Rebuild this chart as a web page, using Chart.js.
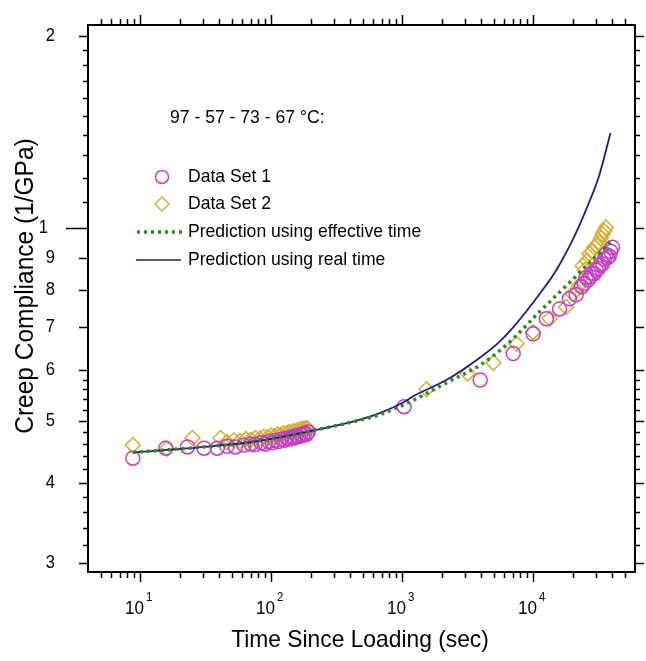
<!DOCTYPE html>
<html>
  <head>
    <meta charset="utf-8">
    <script src="https://cdn.jsdelivr.net/npm/chart.js@4.4.0/dist/chart.umd.min.js"></script>
    <style>
      body { margin: 0; background: #fff; }
      #wrap { width: 646px; height: 661px; position: relative; }
    </style>
  </head>
  <body>
    <div id="wrap"><canvas id="creepChart"></canvas></div>
    <script>
      // data
      const time1 = [8.8, 15.7, 23, 30.8, 38.8, 46, 53.4, 62, 70, 75.7,
        84, 90, 96, 102, 108, 114, 120, 126, 132, 138, 144, 150, 156, 162, 168, 174, 180, 186, 192,
        1035, 3945, 7047, 10000, 12630, 15920, 18960, 21330, 23500, 24500, 25410, 26300, 27300, 28200, 29300,
        30400, 31500, 32700, 33900, 35000, 36000, 37100, 38200, 39200, 40360];
      const compliance1 = [0.437, 0.453, 0.455, 0.453, 0.453, 0.456, 0.455, 0.458, 0.460, 0.459,
        0.462, 0.460, 0.464, 0.462, 0.466, 0.464, 0.468, 0.466, 0.470, 0.468, 0.472, 0.470, 0.474, 0.472, 0.476, 0.474, 0.478, 0.476, 0.480,
        0.526, 0.579, 0.637, 0.684, 0.722, 0.748, 0.776, 0.787, 0.810, 0.820, 0.838, 0.830, 0.840, 0.850, 0.849,
        0.860, 0.865, 0.875, 0.880, 0.895, 0.910, 0.900, 0.905, 0.920, 0.934];

      const time2 = [8.8, 16, 25.1, 41.1, 46, 52, 58, 64, 70, 76, 82, 88, 94, 100, 106, 112, 118, 124, 130,
        136, 142, 148, 154, 160, 166, 172, 178, 184, 190,
        1538, 3162, 4980, 7480, 10000, 13390, 17900, 20090, 21500, 22590, 23930, 24800, 25800, 26900, 28100,
        29300, 30600, 31980, 32900, 33900, 35000, 36000];
      const compliance2 = [0.458, 0.452, 0.470, 0.470, 0.463, 0.466, 0.465, 0.468, 0.467, 0.470, 0.469, 0.472, 0.471, 0.474, 0.473, 0.476, 0.475, 0.478, 0.477,
        0.480, 0.479, 0.482, 0.481, 0.484, 0.483, 0.486, 0.485, 0.487, 0.486,
        0.560, 0.593, 0.616, 0.660, 0.688, 0.722, 0.753, 0.790, 0.800, 0.815, 0.874, 0.860, 0.890, 0.912, 0.920,
        0.934, 0.940, 0.950, 0.965, 0.979, 0.990, 1.003];

      const predTime = [8.8, 10, 23.7, 75.7, 192, 400, 690, 1035, 1233, 2208, 3945, 5430, 7047, 11250, 15030, 20090, 25410, 31980, 39000];
      const predEffective = [0.446, 0.447, 0.453, 0.464, 0.481, 0.497, 0.512, 0.530, 0.539, 0.574, 0.611, 0.641, 0.672, 0.741, 0.785, 0.832, 0.873, 0.914, 0.951];
      const predReal = [0.446, 0.447, 0.453, 0.464, 0.481, 0.497, 0.515, 0.535, 0.547, 0.580, 0.628, 0.662, 0.700, 0.790, 0.860, 0.960, 1.070, 1.210, 1.410];

      const xMajor = [10, 100, 1000, 10000];
      const yLabelled = [0.3, 0.4, 0.5, 0.6, 0.7, 0.8, 0.9, 1, 2];

      const magenta = '#c63dc6';
      const gold = '#d4ae2c';
      const navy = '#1c1c8c';
      const green = '#2f8a1c';
      const FONT = '"Liberation Sans", Arial, sans-serif';

      function pairs(xs, ys) {
        return xs.map((x, i) => ({x: x, y: ys[i]}));
      }

      // tick positions for the log axes
      const xTicks = [];
      for (let e = 0; e <= 4; e++) {
        for (let m = 1; m <= 9; m++) {
          const v = m * Math.pow(10, e);
          if (v >= 5 && v <= 50000) xTicks.push(v);
        }
      }
      const yTicks = [];
      for (let k = 30; k <= 60; k += 2) yTicks.push(k / 100);
      yTicks.push(0.7, 0.8, 0.9, 1);
      for (let k = 11; k <= 20; k++) yTicks.push(k / 10);

      // the source lettering is a little narrow, so squeeze it horizontally
      function text(ctx, s, x, y, align, font, squeeze, rot) {
        ctx.save();
        ctx.translate(x, y);
        if (rot) ctx.rotate(rot);
        ctx.scale(squeeze, 1);
        ctx.font = font;
        ctx.textAlign = align;
        ctx.fillText(s, 0, 0);
        ctx.restore();
      }

      const axesPlugin = {
        id: 'axesPlugin',
        afterDraw(chart) {
          const ctx = chart.ctx;
          const a = chart.chartArea;
          const xs = chart.scales.x, ys = chart.scales.y;
          ctx.save();
          ctx.strokeStyle = '#000';
          ctx.fillStyle = '#000';

          // frame
          ctx.lineWidth = 2;
          ctx.strokeRect(a.left, a.top, a.right - a.left, a.bottom - a.top);

          // x ticks, bottom and top
          ctx.lineWidth = 1.5;
          xTicks.forEach(v => {
            const px = Math.round(xs.getPixelForValue(v)) + 0.5;
            const len = xMajor.includes(v) ? 10 : 6;
            ctx.beginPath();
            ctx.moveTo(px, a.bottom); ctx.lineTo(px, a.bottom + len);
            ctx.moveTo(px, a.top); ctx.lineTo(px, a.top - len);
            ctx.stroke();
          });

          // y ticks, left and right
          yTicks.forEach(v => {
            const py = Math.round(ys.getPixelForValue(v)) + 0.5;
            const lab = yLabelled.some(l => Math.abs(l - v) < 1e-6);
            const len = Math.abs(v - 1) < 1e-6 ? 22 : (lab ? 9 : 5);
            ctx.beginPath();
            ctx.moveTo(a.left - len, py); ctx.lineTo(a.left, py);
            ctx.moveTo(a.right, py); ctx.lineTo(a.right + Math.min(len, 9), py);
            ctx.stroke();
          });

          // y tick labels (2, 1, then 9 ... 3 for tenths)
          ctx.textBaseline = 'middle';
          yLabelled.forEach(v => {
            const py = ys.getPixelForValue(v);
            const txt = v >= 1 ? String(v) : String(Math.round(v * 10));
            const xr = v === 1 ? a.left - 40 : a.left - 33;
            text(ctx, txt, xr, py, 'right', '18px ' + FONT, 0.92);
          });

          // x tick labels 10^n
          ctx.textBaseline = 'alphabetic';
          xMajor.forEach((v, i) => {
            const px = xs.getPixelForValue(v);
            text(ctx, '10', px + 4, a.bottom + 42, 'right', '18px ' + FONT, 0.95);
            text(ctx, String(i + 1), px + 6, a.bottom + 29, 'left', '12px ' + FONT, 0.95);
          });

          // axis titles
          ctx.textBaseline = 'middle';
          text(ctx, 'Time Since Loading (sec)', 360, 640, 'center', '24px ' + FONT, 0.95);
          text(ctx, 'Creep Compliance (1/GPa)', 26, 286, 'center', '25px ' + FONT, 0.98, -Math.PI / 2);

          // legend block
          const lf = '18.5px ' + FONT;
          text(ctx, '97 - 57 - 73 - 67 \u00b0C:', 170, 118, 'left', lf, 0.95);
          const rows = [177, 204, 232, 260];
          text(ctx, 'Data Set 1', 188, rows[0], 'left', lf, 0.95);
          text(ctx, 'Data Set 2', 188, rows[1], 'left', lf, 0.95);
          text(ctx, 'Prediction using effective time', 188, rows[2], 'left', lf, 0.95);
          text(ctx, 'Prediction using real time', 188, rows[3], 'left', lf, 0.95);

          ctx.lineWidth = 1.5;
          ctx.strokeStyle = magenta;
          ctx.beginPath();
          ctx.arc(162, rows[0], 6.5, 0, Math.PI * 2);
          ctx.stroke();
          ctx.strokeStyle = gold;
          ctx.beginPath();
          ctx.moveTo(162, rows[1] - 7); ctx.lineTo(169, rows[1]);
          ctx.lineTo(162, rows[1] + 7); ctx.lineTo(155, rows[1]);
          ctx.closePath();
          ctx.stroke();
          ctx.strokeStyle = green;
          ctx.lineWidth = 3.5;
          ctx.setLineDash([3, 4]);
          ctx.beginPath();
          ctx.moveTo(137, rows[2]); ctx.lineTo(182, rows[2]);
          ctx.stroke();
          ctx.setLineDash([]);
          ctx.strokeStyle = navy;
          ctx.lineWidth = 1.5;
          ctx.beginPath();
          ctx.moveTo(136, rows[3]); ctx.lineTo(181, rows[3]);
          ctx.stroke();
          ctx.restore();
        }
      };

      const ctx = document.getElementById('creepChart');
      new Chart(ctx, {
        type: 'scatter',
        data: {
          datasets: [
            {
              label: 'Prediction using effective time',
              data: pairs(predTime, predEffective),
              showLine: true,
              borderColor: green,
              borderWidth: 3.5,
              borderDash: [3, 4],
              pointRadius: 0,
              cubicInterpolationMode: 'monotone',
              order: 0
            },
            {
              label: 'Prediction using real time',
              data: pairs(predTime, predReal),
              showLine: true,
              borderColor: navy,
              borderWidth: 1.8,
              pointRadius: 0,
              cubicInterpolationMode: 'monotone',
              order: 1
            },
            {
              label: 'Data Set 1',
              data: pairs(time1, compliance1),
              pointStyle: 'circle',
              pointRadius: 7,
              borderColor: magenta,
              backgroundColor: 'rgba(0,0,0,0)',
              borderWidth: 1.5,
              order: 2
            },
            {
              label: 'Data Set 2',
              data: pairs(time2, compliance2),
              pointStyle: 'rectRot',
              pointRadius: 7.5,
              borderColor: gold,
              backgroundColor: 'rgba(0,0,0,0)',
              borderWidth: 1.5,
              order: 3
            }
          ]
        },
        options: {
          responsive: true,
          maintainAspectRatio: false,
          animation: false,
          layout: { padding: { left: 88, right: 11, top: 25, bottom: 89 } },
          plugins: { legend: { display: false }, tooltip: { enabled: false } },
          scales: {
            x: { type: 'logarithmic', min: 4, max: 60000, display: false },
            y: { type: 'logarithmic', min: 0.29, max: 2.08, display: false }
          }
        },
        plugins: [axesPlugin]
      });
    </script>
  </body>
</html>
